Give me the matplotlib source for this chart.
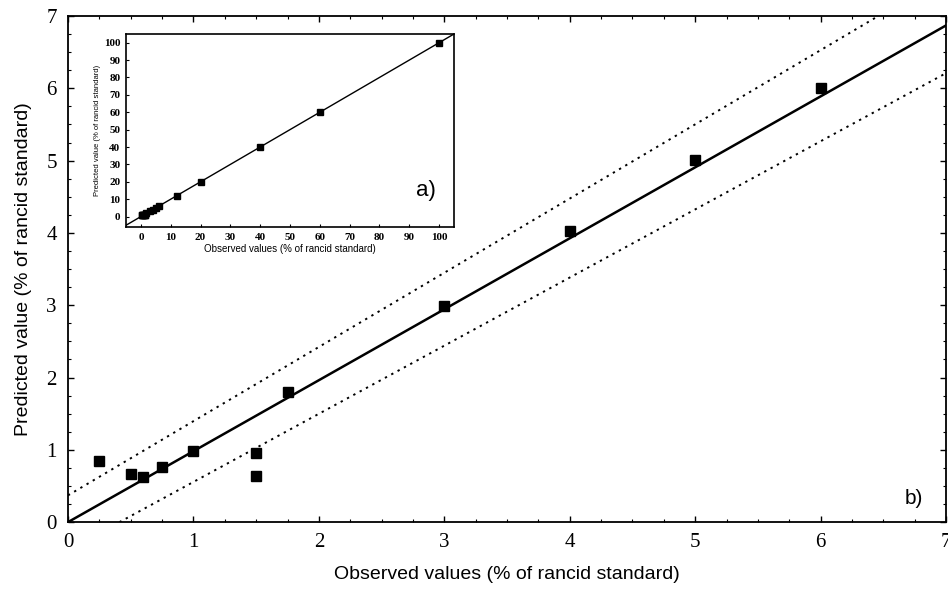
import matplotlib.pyplot as plt
from matplotlib.ticker import MultipleLocator

# observed vs predicted (% of rancid standard)
obs = [0.25, 0.5, 0.6, 0.75, 1.0, 1.5, 1.5, 1.75, 3.0, 4.0, 5.0, 6.0]
pred = [0.84, 0.66, 0.62, 0.76, 0.98, 0.96, 0.64, 1.80, 2.99, 4.02, 5.01, 6.0]

# regression line and prediction band (end points)
fit_x = [0, 7]
fit_y = [0, 6.87]
upper_x = [0, 6.46]
upper_y = [0.37, 7.0]
lower_x = [0.41, 7]
lower_y = [0, 6.21]

# inset: full range
inset_obs = obs + [12, 20, 40, 60, 100]
inset_pred = pred + [12, 20, 40, 60, 100]
inset_line = [-5, 105]

serif = "Liberation Serif"
sans = "Liberation Sans"

fig = plt.figure(figsize=(9.48, 5.92), dpi=100)
ax = fig.add_axes([0.0717, 0.118, 0.9263, 0.855])

ax.plot(fit_x, fit_y, color="black", linewidth=1.8)
ax.plot(upper_x, upper_y, color="black", linestyle=(0, (1.2, 2.5)), linewidth=1.4)
ax.plot(lower_x, lower_y, color="black", linestyle=(0, (1.2, 2.5)), linewidth=1.4)
ax.plot(obs, pred, linestyle="none", marker="s", markersize=7.5, color="black")

ax.set_xlim(0, 7)
ax.set_ylim(0, 7)
ax.xaxis.set_major_locator(MultipleLocator(1))
ax.yaxis.set_major_locator(MultipleLocator(1))
ax.xaxis.set_minor_locator(MultipleLocator(0.25))
ax.yaxis.set_minor_locator(MultipleLocator(0.25))
ax.tick_params(which="both", direction="in", top=True, right=True)
ax.tick_params(which="major", length=4, width=1, pad=8)
ax.tick_params(which="minor", length=2, width=0.8)
for lbl in ax.get_xticklabels() + ax.get_yticklabels():
    lbl.set_fontfamily(serif)
    lbl.set_fontsize(15)
for sp in ax.spines.values():
    sp.set_linewidth(1.3)

ax.set_xlabel("Observed values (% of rancid standard)", fontfamily=sans, fontsize=14, labelpad=10)
ax.set_ylabel("Predicted value (% of rancid standard)", fontfamily=sans, fontsize=14, labelpad=10)
ax.text(6.82, 0.2, "b)", fontfamily=sans, fontsize=15, ha="right", va="bottom")

# inset a)
ins = fig.add_axes([126 / 948, 1 - 227 / 592, 328 / 948, 193 / 592])
ins.plot(inset_line, inset_line, color="black", linewidth=1.0)
ins.plot(inset_obs, inset_pred, linestyle="none", marker="s", markersize=4.5, color="black")
ins.set_xlim(-5, 105)
ins.set_ylim(-6, 105)
ins.xaxis.set_major_locator(MultipleLocator(10))
ins.yaxis.set_major_locator(MultipleLocator(10))
ins.tick_params(which="both", direction="in", length=2, labelsize=8, pad=4)
for lbl in ins.get_xticklabels() + ins.get_yticklabels():
    lbl.set_fontfamily(serif)
    lbl.set_fontweight("bold")
for sp in ins.spines.values():
    sp.set_linewidth(1.2)
ins.set_xlabel("Observed values (% of rancid standard)", fontfamily=sans, fontsize=7, labelpad=2)
ins.set_ylabel("Predicted value (% of rancid standard)", fontfamily=sans, fontsize=5.5, labelpad=2)
ins.text(99, 9, "a)", fontfamily=sans, fontsize=16, ha="right", va="bottom")

fig.savefig("out.png", dpi=100)
